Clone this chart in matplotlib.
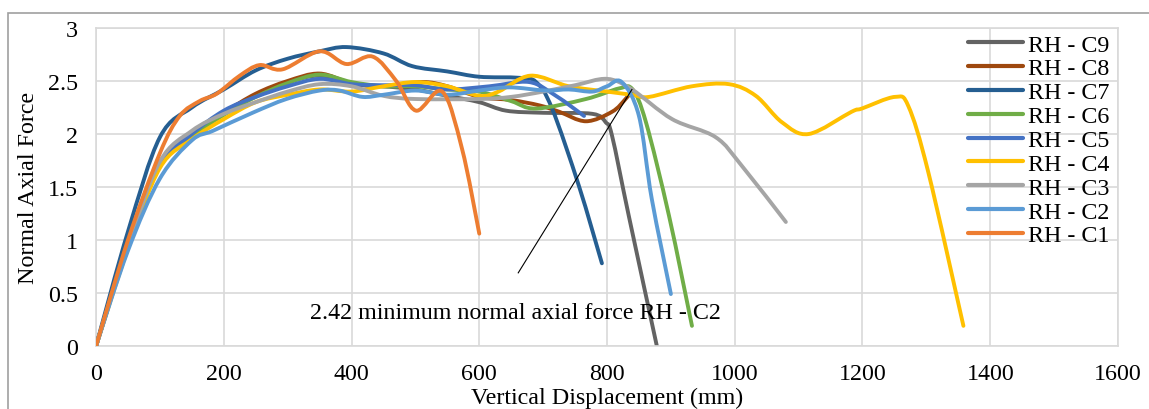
import numpy as np
import matplotlib
matplotlib.use("Agg")
import matplotlib.pyplot as plt
from matplotlib.path import Path
from matplotlib.patches import PathPatch, Rectangle
from matplotlib.lines import Line2D

# series names, legend order (C9 drawn first, C1 on top)
labels = ["RH - C9", "RH - C8", "RH - C7", "RH - C6", "RH - C5",
          "RH - C4", "RH - C3", "RH - C2", "RH - C1"]
colors = ["#636363", "#9E480E", "#255E91", "#70AD47", "#4472C4",
          "#FFC000", "#A5A5A5", "#5B9BD5", "#ED7D31"]

# vertical displacement (mm) / normal axial force
c9_x = [0, 50, 100, 150, 200, 250, 300, 350, 400, 450, 500, 550, 600, 642, 700, 777, 798, 808, 834, 878]
c9_y = [0, 0.95, 1.70, 2.00, 2.20, 2.37, 2.49, 2.55, 2.47, 2.45, 2.42, 2.36, 2.30, 2.22, 2.20, 2.19, 2.11, 1.98, 1.23, 0]

c8_x = [0, 50, 100, 150, 200, 250, 300, 350, 400, 450, 511, 550, 600, 650, 694, 725, 767, 808, 829, 840]
c8_y = [0, 0.95, 1.70, 2.00, 2.20, 2.38, 2.50, 2.57, 2.48, 2.45, 2.49, 2.45, 2.35, 2.32, 2.27, 2.21, 2.12, 2.21, 2.33, 2.42]

c7_x = [0, 50, 100, 150, 200, 250, 300, 350, 392, 450, 495, 550, 600, 662, 689, 714, 756, 792]
c7_y = [0, 1.08, 1.97, 2.25, 2.42, 2.60, 2.71, 2.78, 2.82, 2.76, 2.64, 2.59, 2.54, 2.53, 2.49, 2.24, 1.51, 0.78]

c6_x = [0, 50, 100, 150, 200, 250, 300, 350, 400, 450, 500, 550, 600, 650, 689, 767, 819, 840, 861, 897, 933]
c6_y = [0, 0.95, 1.70, 1.98, 2.18, 2.35, 2.48, 2.56, 2.49, 2.45, 2.45, 2.42, 2.40, 2.31, 2.24, 2.33, 2.43, 2.42, 2.11, 1.23, 0.19]

c5_x = [0, 50, 100, 150, 200, 250, 300, 350, 400, 450, 500, 550, 616, 678, 720, 764]
c5_y = [0, 0.95, 1.70, 2.00, 2.22, 2.35, 2.45, 2.52, 2.47, 2.46, 2.46, 2.42, 2.45, 2.49, 2.36, 2.17]

c4_x = [0, 50, 100, 150, 200, 250, 300, 350, 400, 450, 500, 550, 600, 630, 680, 740, 800, 839, 866, 933, 991,
        1033, 1074, 1116, 1183, 1199, 1251, 1272, 1303, 1358]
c4_y = [0, 0.92, 1.68, 1.95, 2.14, 2.30, 2.37, 2.42, 2.40, 2.45, 2.49, 2.45, 2.36, 2.40, 2.55, 2.45, 2.40, 2.37, 2.35, 2.45, 2.47,
        2.36, 2.11, 2.00, 2.21, 2.24, 2.35, 2.26, 1.64, 0.19]

c3_x = [0, 50, 100, 150, 200, 250, 300, 350, 400, 450, 500, 600, 650, 700, 750, 800, 839, 902, 970, 1011, 1080]
c3_y = [0, 0.95, 1.74, 2.03, 2.19, 2.30, 2.40, 2.47, 2.45, 2.36, 2.33, 2.33, 2.35, 2.40, 2.46, 2.52, 2.42, 2.14, 1.97, 1.70, 1.17]

c2_x = [0, 50, 100, 150, 183, 245, 298, 350, 381, 417, 450, 500, 550, 600, 647, 704, 740, 777, 800, 823, 850, 870, 900]
c2_y = [0, 0.90, 1.58, 1.94, 2.03, 2.20, 2.33, 2.41, 2.41, 2.35, 2.37, 2.41, 2.37, 2.41, 2.44, 2.41, 2.42, 2.40, 2.45, 2.49, 2.17, 1.39, 0.49]

c1_x = [0, 50, 100, 131, 162, 189, 225, 256, 292, 350, 392, 433, 470, 501, 542, 573, 600]
c1_y = [0, 1.00, 1.82, 2.17, 2.31, 2.38, 2.55, 2.65, 2.61, 2.78, 2.66, 2.73, 2.50, 2.22, 2.40, 1.86, 1.06]

xs = [c9_x, c8_x, c7_x, c6_x, c5_x, c4_x, c3_x, c2_x, c1_x]
ys = [c9_y, c8_y, c7_y, c6_y, c5_y, c4_y, c3_y, c2_y, c1_y]

note = "2.42 minimum normal axial force RH - C2"


def smooth_path(x, y):
    # Excel style smoothed line: Catmull-Rom segments as cubic Beziers
    p = np.column_stack([x, y]).astype(float)
    verts = [p[0]]
    codes = [Path.MOVETO]
    n = len(p)
    for i in range(n - 1):
        p0 = p[i - 1] if i > 0 else p[i]
        p1 = p[i]
        p2 = p[i + 1]
        p3 = p[i + 2] if i + 2 < n else p[i + 1]
        verts += [p1 + (p2 - p0) / 6, p2 - (p3 - p1) / 6, p2]
        codes += [Path.CURVE4] * 3
    return Path(verts, codes)


FS = 17.3
plt.rcParams["font.family"] = ["Liberation Serif", "DejaVu Serif"]
plt.rcParams["font.size"] = FS

fig = plt.figure(figsize=(11.49, 4.10), dpi=100)
ax = fig.add_axes([0.0836, 0.1537, 0.8894, 0.7756])

# outer chart border
fig.patches.append(Rectangle((8 / 1149, -0.1), 1.2, 1.1 - 14 / 410,
                             transform=fig.transFigure, fill=False,
                             edgecolor="#a0a0a0", linewidth=1.2))

for i in range(len(labels)):
    ax.add_patch(PathPatch(smooth_path(xs[i], ys[i]), fill=False,
                           edgecolor=colors[i], linewidth=2.8,
                           capstyle="round", joinstyle="round", zorder=2 + i))

ax.set_xlim(0, 1600)
ax.set_ylim(0, 3)
ax.set_xticks(np.arange(0, 1601, 200))
ax.set_yticks([0, 0.5, 1, 1.5, 2, 2.5, 3])
ax.set_yticklabels(["0", "0.5", "1", "1.5", "2", "2.5", "3"])
ax.grid(True, color="#d9d9d9", linewidth=1.2)
ax.set_axisbelow(True)
for s in ax.spines.values():
    s.set_color("#d9d9d9")
    s.set_linewidth(1.2)
ax.tick_params(axis="y", length=0, labelsize=FS, pad=13)
ax.tick_params(axis="x", length=0, labelsize=FS, pad=12)

ax.set_xlabel("Vertical Displacement (mm)", fontsize=FS)
ax.xaxis.set_label_coords(0.5, -0.194)
ax.xaxis.label.set_va("bottom")
ax.set_ylabel("Normal Axial Force", fontsize=FS)
ax.yaxis.set_label_coords(-0.0665, 0.5)
ax.yaxis.label.set_va("center")

# annotation for the minimum
ax.plot([661, 839], [0.69, 2.42], color="black", linewidth=0.8, zorder=20)
ax.text(656, 0.32, note, ha="center", va="center", fontsize=FS, zorder=21)

handles = [Line2D([0], [0], color=c, linewidth=3, solid_capstyle="round") for c in colors]
ax.legend(handles, labels, loc="upper left", bbox_to_anchor=(0.853, 0.982),
          frameon=False, fontsize=FS, handlelength=2.3, handletextpad=0.2,
          labelspacing=0.085, borderpad=0, borderaxespad=0)

plt.savefig("out.png", dpi=100)
plt.close()
